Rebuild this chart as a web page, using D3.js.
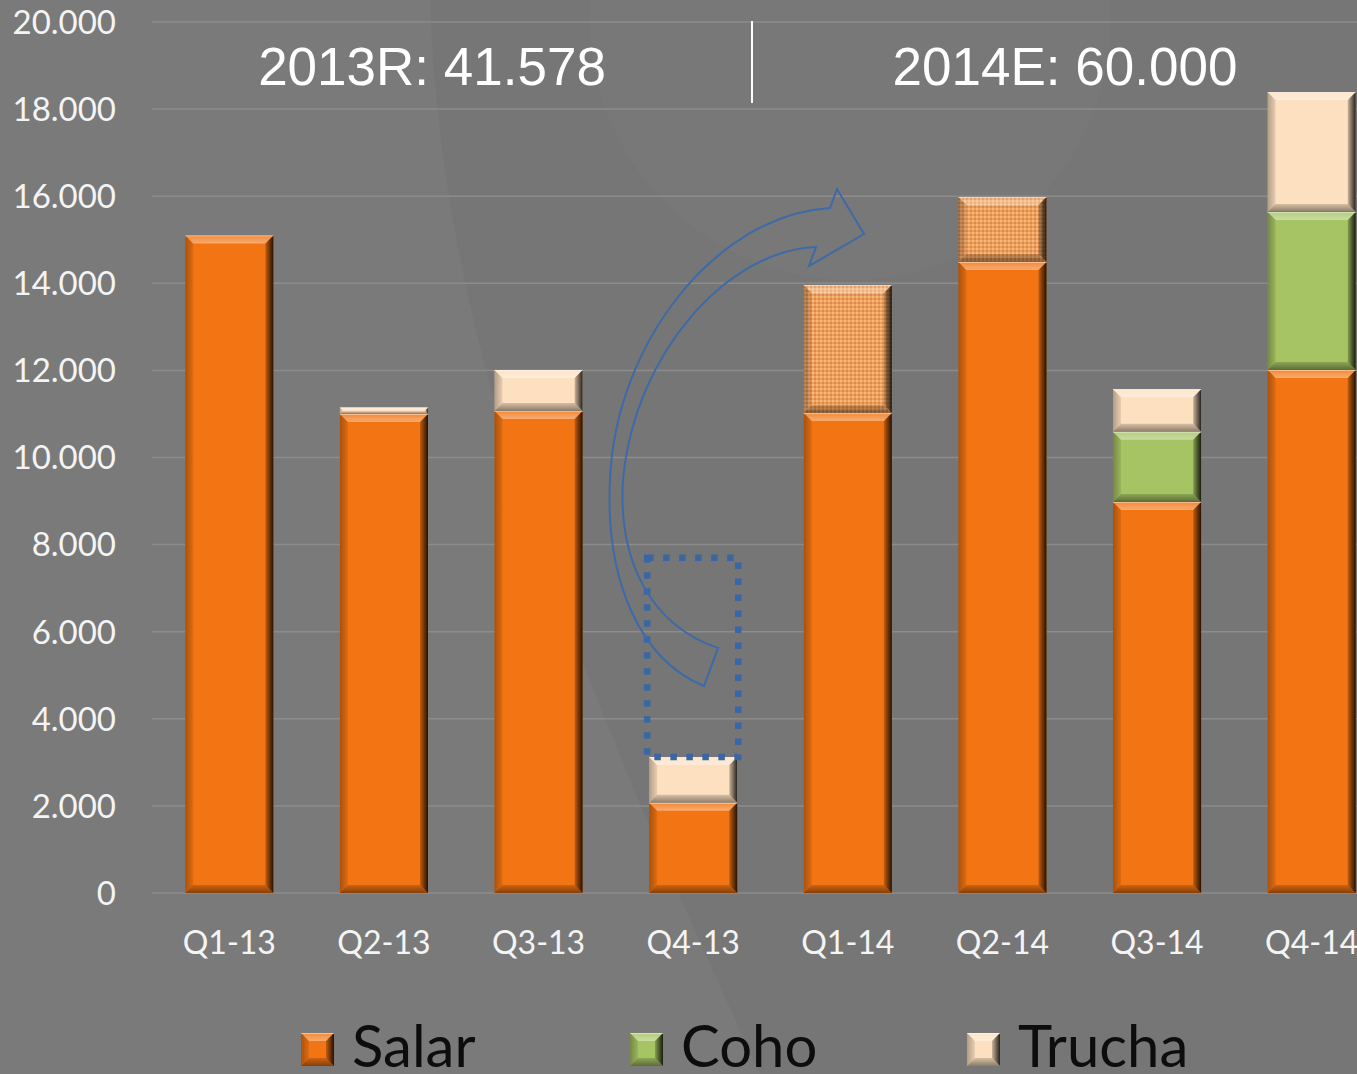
<!DOCTYPE html>
<html>
<head>
<meta charset="utf-8">
<script src="https://cdn.jsdelivr.net/npm/d3@7"></script>
<style>
  html, body { margin: 0; padding: 0; background: #7a7a7a; overflow: hidden; }
  svg { display: block; }
</style>
</head>
<body>
<svg id="chart"></svg>
<script>
// data
const categories = ["Q1-13", "Q2-13", "Q3-13", "Q4-13", "Q1-14", "Q2-14", "Q3-14", "Q4-14"];
const salar      = [15100, 11000, 11070, 2070, 11020, 14490, 8980, 12010];
const salarExtra = [0, 0, 0, 0, 2940, 1490, 0, 0];
const coho       = [0, 0, 0, 0, 0, 0, 1610, 3630];
const trucha     = [0, 150, 940, 1050, 0, 0, 980, 2750];
const yTicks     = [0, 2000, 4000, 6000, 8000, 10000, 12000, 14000, 16000, 18000, 20000];
const legendNames = ["Salar", "Coho", "Trucha"];
const totalLabels = ["2013R: 41.578", "2014E: 60.000"];
const boxTop = 7700; // dotted box over Q4-13

const width = 1357, height = 1074;
const svg = d3.select("#chart")
    .attr("width", width)
    .attr("height", height)
    .attr("viewBox", "0 0 " + width + " " + height);

const colors = {salar: "#f27412", salarExtra: "url(#hatch)", coho: "#a6c464", trucha: "#fde0c0"};

const x = d3.scaleBand()
    .domain(categories)
    .range([152, 1389])
    .paddingInner(0.43)
    .paddingOuter(0.215);
const y = d3.scaleLinear()
    .domain([0, 20000])
    .range([893, 22]);

const defs = svg.append("defs");
// checker texture for the extra salar part
const pat = defs.append("pattern").attr("id", "hatch")
    .attr("width", 4).attr("height", 4).attr("patternUnits", "userSpaceOnUse");
pat.append("rect").attr("width", 4).attr("height", 4).attr("fill", "#eea060");
pat.append("rect").attr("width", 2).attr("height", 2).attr("fill", "#f8b878");
pat.append("rect").attr("x", 2).attr("y", 2).attr("width", 2).attr("height", 2).attr("fill", "#d98a48");

const gr = defs.append("linearGradient").attr("id", "rightShade").attr("x1", 0).attr("x2", 1);
gr.append("stop").attr("offset", 0).attr("stop-color", "#000").attr("stop-opacity", 0.2);
gr.append("stop").attr("offset", 1).attr("stop-color", "#000").attr("stop-opacity", 0.85);
const gl = defs.append("linearGradient").attr("id", "leftShade").attr("x1", 0).attr("x2", 1);
gl.append("stop").attr("offset", 0).attr("stop-color", "#000").attr("stop-opacity", 0.3);
gl.append("stop").attr("offset", 1).attr("stop-color", "#000").attr("stop-opacity", 0.08);
const gt = defs.append("linearGradient").attr("id", "topShade").attr("x1", 0).attr("x2", 0).attr("y1", 0).attr("y2", 1);
gt.append("stop").attr("offset", 0).attr("stop-color", "#fff").attr("stop-opacity", 0.15);
gt.append("stop").attr("offset", 1).attr("stop-color", "#fff").attr("stop-opacity", 0.4);
const gb = defs.append("linearGradient").attr("id", "bottomShade").attr("x1", 0).attr("x2", 0).attr("y1", 0).attr("y2", 1);
gb.append("stop").attr("offset", 0).attr("stop-color", "#000").attr("stop-opacity", 0.15);
gb.append("stop").attr("offset", 1).attr("stop-color", "#000").attr("stop-opacity", 0.45);

// faint watermark in the background
svg.append("path")
    .attr("d", "M430,0 C440,330 560,640 760,1074 L1357,1074 L1357,0 Z")
    .attr("fill", "#000").attr("opacity", 0.03);
svg.append("circle")
    .attr("cx", 850).attr("cy", 20).attr("r", 260)
    .attr("fill", "#fff").attr("opacity", 0.018);

// gridlines
svg.append("g")
    .selectAll("line")
    .data(yTicks)
    .join("line")
    .attr("x1", 152).attr("x2", width)
    .attr("y1", d => y(d)).attr("y2", d => y(d))
    .attr("stroke", "#8c8c8c")
    .attr("stroke-width", 1.5);

// y tick labels
svg.append("g")
    .selectAll("text")
    .data(yTicks)
    .join("text")
    .attr("x", 116)
    .attr("y", d => y(d))
    .attr("dy", "0.36em")
    .attr("text-anchor", "end")
    .style("font-family", "Lato, 'Open Sans', sans-serif")
    .style("font-size", "33px")
    .style("fill", "#f4f4f4")
    .text(d => d3.format(",")(d).replace(/,/g, "."));

// category labels
svg.append("g")
    .selectAll("text")
    .data(categories)
    .join("text")
    .attr("x", d => x(d) + x.bandwidth() / 2)
    .attr("y", 942)
    .attr("dy", "0.36em")
    .attr("text-anchor", "middle")
    .style("font-family", "Lato, 'Open Sans', sans-serif")
    .style("font-size", "32px")
    .style("fill", "#f4f4f4")
    .text(d => d);

// stacked bars
const keys = ["salar", "salarExtra", "coho", "trucha"];
const rows = categories.map((c, i) => ({cat: c, salar: salar[i], salarExtra: salarExtra[i], coho: coho[i], trucha: trucha[i]}));
const series = d3.stack().keys(keys)(rows);

function bevel(g, bx, by, bw, bh, fill) {
    const b = Math.min(8, bh / 2.5);
    g.append("rect")
        .attr("x", bx).attr("y", by).attr("width", bw).attr("height", bh)
        .attr("fill", fill);
    const poly = (pts, f) => g.append("polygon").attr("points", pts.map(p => p.join(",")).join(" ")).attr("fill", f);
    poly([[bx, by], [bx + bw, by], [bx + bw - b, by + b], [bx + b, by + b]], "url(#topShade)");
    poly([[bx, by], [bx + b, by + b], [bx + b, by + bh - b], [bx, by + bh]], "url(#leftShade)");
    poly([[bx + bw, by], [bx + bw, by + bh], [bx + bw - b, by + bh - b], [bx + bw - b, by + b]], "url(#rightShade)");
    poly([[bx, by + bh], [bx + b, by + bh - b], [bx + bw - b, by + bh - b], [bx + bw, by + bh]], "url(#bottomShade)");
    // thin light seam on top edge
    g.append("line")
        .attr("x1", bx).attr("x2", bx + bw).attr("y1", by + 0.5).attr("y2", by + 0.5)
        .attr("stroke", "#fff").attr("stroke-opacity", 0.45).attr("stroke-width", 1);
}

const barsG = svg.append("g");
series.forEach(s => {
    s.forEach(d => {
        if (d[1] - d[0] <= 0) return;
        const bx = x(d.data.cat);
        const top = y(d[1]), bot = y(d[0]);
        bevel(barsG.append("g").attr("class", "seg " + s.key), bx, top, x.bandwidth(), bot - top, colors[s.key]);
    });
});

// totals above the chart
const hdr = svg.append("g");
const hdrX = [432, 1065];
totalLabels.forEach((t, i) => {
    hdr.append("text")
        .attr("x", hdrX[i])
        .attr("y", 85)
        .attr("text-anchor", "middle")
        .style("font-family", "'Liberation Sans', Arial, sans-serif")
        .style("font-size", "53px")
        .style("fill", "#ffffff")
        .text(t);
});
hdr.append("line")
    .attr("x1", 752).attr("x2", 752).attr("y1", 21).attr("y2", 103)
    .attr("stroke", "#fff").attr("stroke-width", 2);

// dotted box over Q4-13 and curved arrow to Q1-14
const q4 = categories[3];
const q4Total = salar[3] + salarExtra[3] + coho[3] + trucha[3];
svg.append("rect")
    .attr("x", x(q4) - 2)
    .attr("y", y(boxTop))
    .attr("width", x.bandwidth() + 3)
    .attr("height", y(q4Total) - y(boxTop))
    .attr("fill", "none")
    .attr("stroke", "#3b66a6")
    .attr("stroke-width", 6.5)
    .attr("stroke-dasharray", "6.5 9.5");

svg.append("path")
    .attr("d", "M704,686 C640,660 605,580 610,480 C615,345 715,215 830,208 L837,189 L864,234 L809,266 L816,247 C730,250 635,350 623,480 C618,560 650,625 718,648 Z")
    .attr("fill", "none")
    .attr("stroke", "#3d6aa8")
    .attr("stroke-width", 2);

// legend
const legend = svg.append("g");
const legendX = [301, 630, 967];
const legendColors = [colors.salar, colors.coho, colors.trucha];
legendNames.forEach((n, i) => {
    const g = legend.append("g");
    bevel(g, legendX[i], 1033, 33, 33, legendColors[i]);
    g.append("text")
        .attr("x", legendX[i] + 51)
        .attr("y", 1067)
        .style("font-family", "Lato, 'Open Sans', sans-serif")
        .style("font-size", "58px")
        .style("fill", "#0d0d0d")
        .text(n);
});
</script>
</body>
</html>
